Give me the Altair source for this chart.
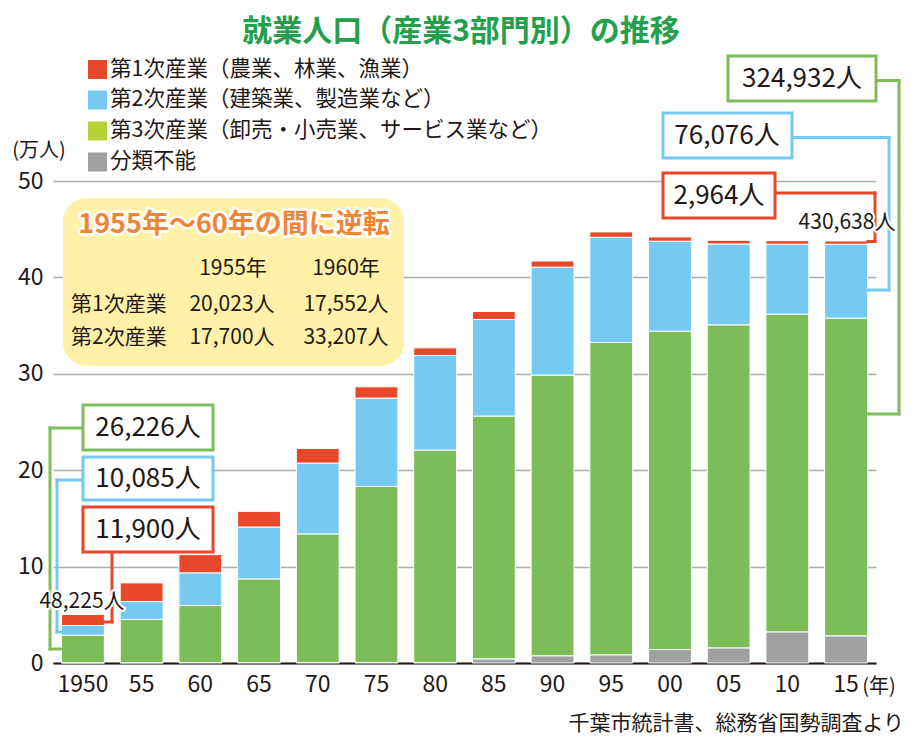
import altair as alt
import pandas as pd

# ---- data (万人) ----
year_labels = ["1950", "55", "60", "65", "70", "75", "80", "85", "90", "95", "00", "05", "10", "15"]
primary = [1.14, 1.94, 1.89, 1.62, 1.52, 1.17, 0.79, 0.83, 0.64, 0.56, 0.45, 0.38, 0.37, 0.34]
secondary = [1.01, 1.86, 3.39, 5.39, 7.35, 9.16, 9.81, 10.01, 11.19, 10.91, 9.33, 8.39, 7.25, 7.67]
tertiary = [2.86, 4.48, 5.91, 8.67, 13.33, 18.26, 22.03, 25.19, 29.12, 32.40, 33.02, 33.51, 32.96, 32.95]
unclassified = [0.02, 0.03, 0.05, 0.05, 0.06, 0.06, 0.06, 0.43, 0.75, 0.85, 1.40, 1.57, 3.23, 2.82]

sectors = ["分類不能", "第3次産業", "第2次産業", "第1次産業"]
bar_colors = ["#9FA0A0", "#7CBD5A", "#76C9F1", "#E8482A"]

legend_labels = ["第1次産業（農業、林業、漁業）", "第2次産業（建築業、製造業など）",
                 "第3次産業（卸売・小売業、サービス業など）", "分類不能"]
legend_colors = ["#E8482A", "#76C9F1", "#B5D334", "#9FA0A0"]

TXT = "#231815"
FONT = "Noto Sans CJK JP"
GREEN_L, BLUE_L, RED_L = "#7DBE5A", "#76C9F1", "#E8482A"

rows = []
for i, lab in enumerate(year_labels):
    for k, (s, vals) in enumerate(zip(sectors, [unclassified, tertiary, secondary, primary])):
        rows.append({"label": lab, "sector": s, "value": vals[i], "ord": k})
df = pd.DataFrame(rows)

# plot-area origin in page pixels
OX, OY = 53, 181


def P(x, y):
    return x - OX, y - OY


bars = alt.Chart(df).mark_bar(stroke="white", strokeWidth=1).encode(
    x=alt.X("label:N", sort=year_labels,
            scale=alt.Scale(paddingInner=0.27, paddingOuter=0.145),
            axis=alt.Axis(title=None, labelAngle=0, ticks=False, domainColor=TXT,
                          domainWidth=2, labelFontSize=23, labelPadding=10,
                          labelFont=FONT, labelColor=TXT, grid=False)),
    y=alt.Y("value:Q", stack="zero", scale=alt.Scale(domain=[0, 50]),
            axis=alt.Axis(title=None, values=[0, 10, 20, 30, 40, 50], ticks=False,
                          domain=False, labelFontSize=23, labelPadding=10,
                          labelFont=FONT, labelColor=TXT, grid=True,
                          gridColor="#ABABAB", gridWidth=1.5)),
    color=alt.Color("sector:N", scale=alt.Scale(domain=sectors, range=bar_colors), legend=None),
    order=alt.Order("ord:Q", sort="ascending"),
)


def _pairs(items):
    d = []
    for (x1, y1, x2, y2, c) in items:
        a, b = P(x1, y1)
        e, f = P(x2, y2)
        d.append({"x": a, "y": b, "x2": e, "y2": f, "c": c})
    return pd.DataFrame(d)


def rect_layer(items, **kw):
    return alt.Chart(_pairs(items)).mark_rect(**kw).encode(
        x=alt.X("x:Q", scale=None, axis=None), x2="x2:Q",
        y=alt.Y("y:Q", scale=None, axis=None), y2="y2:Q",
        stroke=alt.Stroke("c:N", scale=None, legend=None))


def fill_rect_layer(items, **kw):
    return alt.Chart(_pairs(items)).mark_rect(**kw).encode(
        x=alt.X("x:Q", scale=None, axis=None), x2="x2:Q",
        y=alt.Y("y:Q", scale=None, axis=None), y2="y2:Q",
        fill=alt.Fill("c:N", scale=None, legend=None))


def rule_layer(items):
    return alt.Chart(_pairs(items)).mark_rule(strokeWidth=3, strokeCap="square").encode(
        x=alt.X("x:Q", scale=None, axis=None), x2="x2:Q",
        y=alt.Y("y:Q", scale=None, axis=None), y2="y2:Q",
        color=alt.Color("c:N", scale=None, legend=None))


def text_layer(items, **kw):
    d = []
    for (x, y, t, c) in items:
        a, b = P(x, y)
        d.append({"x": a, "y": b, "t": t, "c": c})
    base = dict(font=FONT, baseline="middle")
    base.update(kw)
    return alt.Chart(pd.DataFrame(d)).mark_text(**base).encode(
        x=alt.X("x:Q", scale=None, axis=None),
        y=alt.Y("y:Q", scale=None, axis=None),
        text="t:N",
        color=alt.Color("c:N", scale=None, legend=None))


# yellow note box
note_box = fill_rect_layer([(63, 198, 404, 366, "#FFF1A8")], cornerRadius=24)
note_title_items = [(234, 225, "1955年～60年の間に逆転", "#F08536")]
note_title_halo = text_layer(note_title_items, fontSize=27, fontWeight="bold", align="center",
                             stroke="white", strokeWidth=5, strokeJoin="round")
note_title = text_layer(note_title_items, fontSize=27, fontWeight="bold", align="center")
note_cells = text_layer([
    (233, 269, "1955年", TXT), (346, 269, "1960年", TXT),
    (232, 305, "20,023人", TXT), (346, 305, "17,552人", TXT),
    (232, 338, "17,700人", TXT), (346, 338, "33,207人", TXT),
], fontSize=21, align="center")
note_rows = text_layer([(71, 305, "第1次産業", TXT), (71, 338, "第2次産業", TXT)],
                       fontSize=21, align="left")

# legend
legend_y = [69.5, 100, 131, 162]
legend_sq = fill_rect_layer([(88, yy - 9.5, 107, yy + 9.5, c)
                             for yy, c in zip(legend_y, legend_colors)])
legend_txt = text_layer([(110, yy, t, TXT) for yy, t in zip(legend_y, legend_labels)],
                        fontSize=21.5, align="left")

# callout connectors
connectors = rule_layer([
    # left: green
    (83, 428, 50, 428, GREEN_L), (50, 428, 50, 649, GREEN_L), (50, 649, 61, 649, GREEN_L),
    # left: blue
    (83, 480, 57, 480, BLUE_L), (57, 480, 57, 632, BLUE_L), (57, 632, 61, 632, BLUE_L),
    # left: red
    (112, 552, 112, 622, RED_L), (112, 622, 104, 622, RED_L),
    # right: green
    (876, 80.5, 899, 80.5, GREEN_L), (899, 80.5, 899, 414, GREEN_L), (899, 414, 868, 414, GREEN_L),
    # right: blue
    (792, 137.5, 889, 137.5, BLUE_L), (889, 137.5, 889, 290, BLUE_L), (889, 290, 868, 290, BLUE_L),
    # right: red
    (775, 193, 875, 193, RED_L), (875, 193, 875, 241.5, RED_L), (875, 241.5, 868, 241.5, RED_L),
])

boxes = rect_layer([
    (83, 405, 213, 450, GREEN_L), (83, 457, 213, 500, BLUE_L), (83, 507, 213, 552, RED_L),
    (728, 56, 876, 101, GREEN_L), (663, 113, 792, 158, BLUE_L), (663, 173, 775, 218, RED_L),
], fill="white", strokeWidth=3)

box_text = text_layer([
    (148, 428, "26,226人", TXT), (148, 479, "10,085人", TXT), (148, 530, "11,900人", TXT),
    (802, 78.5, "324,932人", TXT), (727, 136, "76,076人", TXT), (719, 196, "2,964人", TXT),
], fontSize=26, align="center")

total_items = [(82, 602, "48,225人", TXT), (847, 223, "430,638人", TXT)]
totals_halo = text_layer(total_items, fontSize=21, align="center", stroke="white",
                         strokeWidth=4, strokeJoin="round")
totals = text_layer(total_items, fontSize=21, align="center")

# title and misc text
title = text_layer([(461, 32, "就業人口（産業3部門別）の推移", "#23A04B")],
                   fontSize=30, fontWeight="bold", align="center")
misc = text_layer([(39, 151, "(万人)", TXT), (879, 687, "(年)", TXT)], fontSize=20, align="center")
source = text_layer([(904, 724, "千葉市統計書、総務省国勢調査より", TXT)], fontSize=21, align="right")

chart = alt.layer(
    bars, note_box, note_title_halo, note_title, note_cells, note_rows,
    legend_sq, legend_txt, connectors, boxes, box_text, totals_halo, totals,
    title, misc, source,
).properties(
    width=823, height=482,
    autosize=alt.AutoSizeParams(type="none"),
    padding={"left": 45, "top": 173, "right": 35, "bottom": 73},
).configure_view(stroke=None)

chart.save("out.html", embed_options={"renderer": "svg", "actions": False})
